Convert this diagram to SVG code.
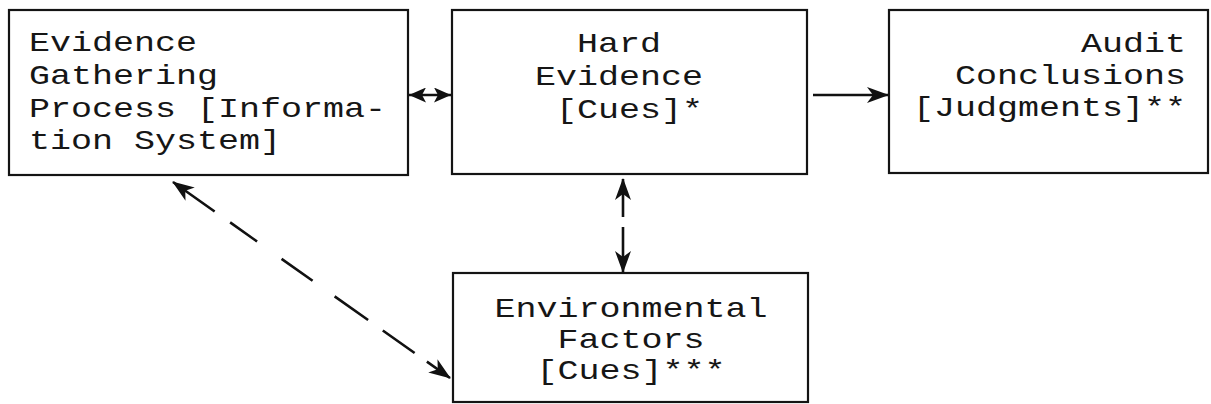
<svg xmlns="http://www.w3.org/2000/svg" width="1211" height="404" viewBox="0 0 1211 404">
  <style>
    .box { fill: #ffffff; stroke: #141414; stroke-width: 2.2; }
    .lbl { font-family: "Liberation Mono", "DejaVu Sans Mono", monospace; font-size: 28px; fill: #161616; }
    .edge { fill: none; stroke: #111111; stroke-width: 2.6; }
  </style>
  <defs>
    <marker id="head" viewBox="0 0 22 16" refX="21" refY="8" markerWidth="22" markerHeight="16" markerUnits="userSpaceOnUse" orient="auto-start-reverse">
      <path d="M0,0 L22,8 L0,16 L6,8 Z" fill="#111111"/>
    </marker>
    <marker id="headS" viewBox="0 0 17 15" refX="17" refY="7.5" markerWidth="17" markerHeight="15" markerUnits="userSpaceOnUse" orient="auto-start-reverse">
      <path d="M0,0 L17,7.5 L0,15 L4,7.5 Z" fill="#111111"/>
    </marker>
  </defs>

  <rect width="1211" height="404" fill="#ffffff"/>

  <g id="gathering">
    <rect class="box" x="9" y="10" width="399" height="165"/>
    <g transform="translate(29,0) scale(1.25,1)">
      <text class="lbl" x="0" y="51">Evidence</text>
      <text class="lbl" x="0" y="84">Gathering</text>
      <text class="lbl" x="0" y="117">Process [Informa-</text>
      <text class="lbl" x="0" y="149">tion System]</text>
    </g>
  </g>

  <g id="hard-evidence">
    <rect class="box" x="452" y="10" width="355" height="164"/>
    <g transform="translate(535,0) scale(1.25,1)">
      <text class="lbl" x="0" y="52" xml:space="preserve">  Hard</text>
      <text class="lbl" x="0" y="85">Evidence</text>
      <text class="lbl" x="0" y="118" xml:space="preserve"> [Cues]*</text>
    </g>
  </g>

  <g id="conclusions">
    <rect class="box" x="889" y="10" width="319" height="163"/>
    <g transform="translate(1186,0) scale(1.25,1)" text-anchor="end">
      <text class="lbl" x="0" y="52">Audit</text>
      <text class="lbl" x="0" y="84">Conclusions</text>
      <text class="lbl" x="0" y="116">[Judgments]**</text>
    </g>
  </g>

  <g id="environment">
    <rect class="box" x="453" y="273" width="355" height="129"/>
    <g transform="translate(631,0) scale(1.25,1)" text-anchor="middle">
      <text class="lbl" x="0" y="317">Environmental</text>
      <text class="lbl" x="0" y="348">Factors</text>
      <text class="lbl" x="0" y="379">[Cues]***</text>
    </g>
  </g>

  <g id="connectors">
    <!-- gathering <-> hard evidence -->
    <line class="edge" x1="409" y1="95" x2="451" y2="95" marker-start="url(#headS)" marker-end="url(#headS)"/>
    <!-- hard evidence -> conclusions -->
    <line class="edge" x1="813" y1="95" x2="888" y2="95" marker-end="url(#head)"/>
    <!-- hard evidence <-> environment -->
    <line class="edge" x1="623" y1="179" x2="623" y2="272" stroke-dasharray="38 10 50" marker-start="url(#head)" marker-end="url(#head)"/>
    <!-- gathering <-> environment (dashed) -->
    <line class="edge" x1="173" y1="182" x2="450" y2="378" stroke-dasharray="51 19 33 30 38 27 41 18 39 15 40" marker-start="url(#head)" marker-end="url(#head)"/>
  </g>
</svg>
